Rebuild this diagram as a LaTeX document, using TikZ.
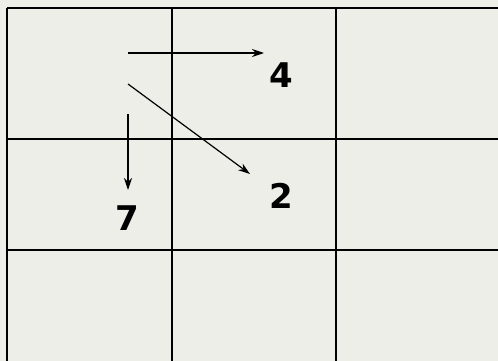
\documentclass[tikz,border=0pt]{standalone}
\usepackage{fontspec}
\setmainfont{DejaVu Sans}
\usetikzlibrary{arrows.meta}
\definecolor{bg}{HTML}{EDEEE8}
\tikzset{
  gridline/.style={line width=2pt, black},
  arr/.style={line width=1.2pt, -{Stealth[length=12pt,width=8pt]}},
  num/.style={font=\fontsize{34}{34}\selectfont\bfseries, inner sep=0pt}
}
\begin{document}
\begin{tikzpicture}[x=1pt,y=-1pt]
\fill[bg] (0,0) rectangle (498,361);
\useasboundingbox (0,0) rectangle (498,361);
% grid
\draw[gridline] (7,8) -- (498,8);
\draw[gridline] (7,139) -- (498,139);
\draw[gridline] (7,250) -- (498,250);
\draw[gridline] (7,8) -- (7,361);
\draw[gridline] (172,8) -- (172,361);
\draw[gridline] (336,8) -- (336,361);
% labels
\node[num] (n4) at (281,75) {4};
\node[num] (n2) at (281,196) {2};
\node[num] (n7) at (127,218) {7};
% arrows
\coordinate (s1) at (128,53);
\coordinate (e1) at (264,53);
\coordinate (s2) at (128,84);
\coordinate (e2) at (250,174);
\coordinate (s3) at (128,114);
\coordinate (e3) at (128,190);
\draw[arr] (s1) -- (e1);
\draw[arr] (s2) -- (e2);
\draw[arr] (s3) -- (e3);
\end{tikzpicture}
\end{document}
